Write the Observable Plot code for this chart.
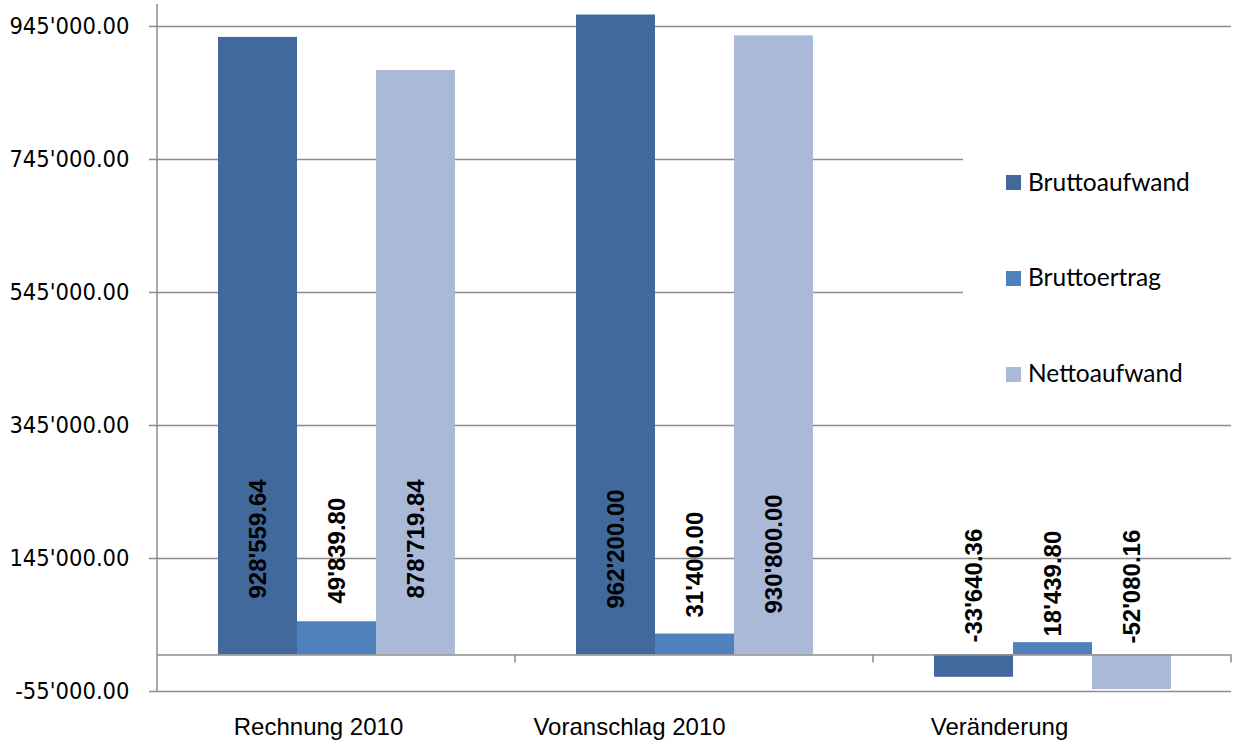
<!DOCTYPE html>
<html><head><meta charset="utf-8">
<script src="https://cdn.jsdelivr.net/npm/d3@7"></script>
<script src="https://cdn.jsdelivr.net/npm/@observablehq/plot@0.6"></script>
<style>
body{margin:0;background:#fff;}
#wrap{position:relative;width:1235px;height:749px;overflow:hidden;}
#wrap svg{display:block;}
</style></head><body><div id="wrap"></div>
<script>
const categories = ["Rechnung 2010", "Voranschlag 2010", "Veränderung"];
const seriesNames = ["Bruttoaufwand", "Bruttoertrag", "Nettoaufwand"];
const bruttoaufwand = [928559.64, 962200.00, -33640.36];
const bruttoertrag = [49839.80, 31400.00, 18439.80];
const nettoaufwand = [878719.84, 930800.00, -52080.16];
const yTicks = [-55000, 145000, 345000, 545000, 745000, 945000];
const colors = ["#41699B", "#4F81BD", "#AAB9D8"];

// layout (not data): where each rotated value label starts, in y units
const labelBase = [[84800, 77300, 84800], [69800, 56200, 62300], [18600, 27700, 17100]];
const catLabelDx = [-18, -65, -53];

const locale = d3.formatLocale({decimal: ".", thousands: "'", grouping: [3], currency: ["", ""], minus: "-"});
const fmt = locale.format(",.2f");

const seriesValues = [bruttoaufwand, bruttoertrag, nettoaufwand];
const rows = [];
categories.forEach((c, i) => seriesNames.forEach((s, j) =>
  rows.push({category: c, series: s, value: seriesValues[j][i], base: labelBase[i][j]})));

const gridColor = "#8c8c8c";
const chart = Plot.plot({
  width: 1235, height: 749,
  marginLeft: 156, marginRight: 3, marginTop: 4, marginBottom: 58,
  style: {fontFamily: "'Liberation Sans', Arial, sans-serif", background: "white", overflow: "visible"},
  fx: {domain: categories, padding: 0, axis: null},
  x: {domain: seriesNames, paddingInner: 0, paddingOuter: 0.75, axis: null},
  y: {domain: [-55000, 978000], axis: null},
  color: {domain: seriesNames, range: colors},
  marks: [
    Plot.ruleY(yTicks, {stroke: gridColor, strokeWidth: 1.5}),
    Plot.axisY({ticks: yTicks, tickFormat: fmt, tickSize: 8, tickPadding: 20, stroke: gridColor, strokeWidth: 1.5,
      fill: "black", fontSize: 23.5, fontFamily: "'DejaVu Sans Condensed', 'DejaVu Sans', sans-serif", label: null}),
    Plot.barY(rows, {fx: "category", x: "series", y: "value", fill: "series"}),
    Plot.ruleY([0], {stroke: gridColor, strokeWidth: 1.5}),
    Plot.text(rows, {fx: "category", x: "series", y: "base", text: d => fmt(d.value), rotate: -90,
      textAnchor: "start", fontWeight: "bold", fontSize: 24, fill: "black"}),
    ...categories.map((c, i) => Plot.text([c], {fx: d => d, frameAnchor: "bottom", text: d => d,
      dy: 43, dx: catLabelDx[i], fontSize: 24, fill: "black"}))
  ]
});

document.getElementById("wrap").appendChild(chart);

// axis line and category separators, placed through Plot's scales
const fxS = chart.scale("fx"), yS = chart.scale("y");
const svg = d3.select(chart);
const x0 = fxS.apply(categories[0]);
const g = svg.append("g").attr("stroke", gridColor).attr("stroke-width", 1.5);
g.append("line").attr("x1", x0).attr("x2", x0).attr("y1", yS.apply(978000)).attr("y2", yS.apply(-55000));
categories.forEach(c => {
  const xb = fxS.apply(c) + fxS.bandwidth;
  g.append("line").attr("x1", xb).attr("x2", xb).attr("y1", yS.apply(0)).attr("y2", yS.apply(0) + 8);
});

// legend overlay
const leg = d3.select("#wrap").append("svg")
  .attr("width", 272).attr("height", 320)
  .style("position", "absolute").style("left", "963px").style("top", "100px");
leg.append("rect").attr("width", 272).attr("height", 320).attr("fill", "white");
seriesNames.forEach((s, j) => {
  leg.append("rect").attr("x", 43).attr("y", 75 + j * 96).attr("width", 15).attr("height", 15).attr("fill", colors[j]);
  leg.append("text").attr("x", 65).attr("y", 90.5 + j * 95.5).text(s)
    .attr("font-family", "Lato, 'Open Sans', sans-serif").attr("font-size", 24.5).attr("fill", "black");
});
</script>
</body></html>
